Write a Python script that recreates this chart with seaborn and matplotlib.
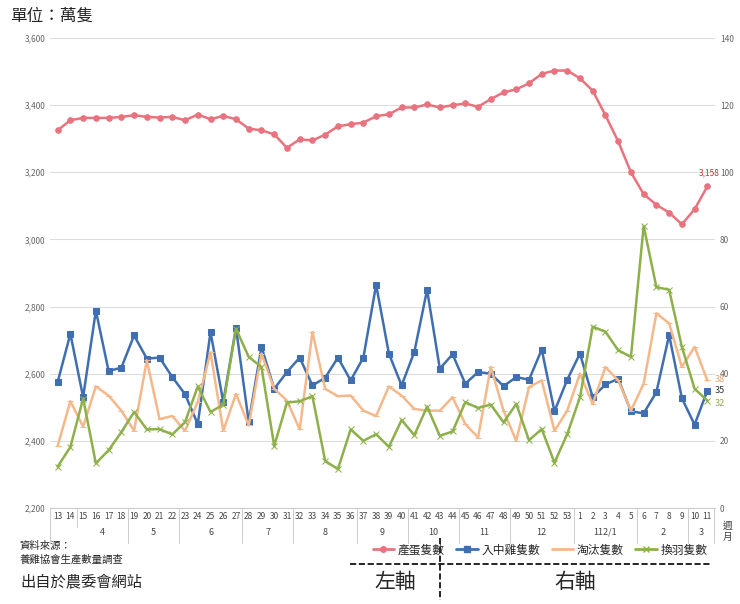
import numpy as np
import pandas as pd
import seaborn as sns
import matplotlib.pyplot as plt
from matplotlib.lines import Line2D

weeks = list(range(13, 54)) + list(range(1, 12))
months = [("4", 15, 18), ("5", 19, 22), ("6", 23, 27), ("7", 28, 31), ("8", 32, 36),
          ("9", 37, 40), ("10", 41, 44), ("11", 45, 48), ("12", 49, 53),
          ("112/1", 1, 5), ("2", 6, 9), ("3", 10, 11)]

eggs = [3325, 3355, 3362, 3362, 3362, 3365, 3370, 3365, 3363, 3365, 3355, 3372, 3358, 3368,
        3358, 3330, 3325, 3313, 3273, 3298, 3295, 3312, 3337, 3343, 3348, 3367, 3373, 3393,
        3393, 3402, 3393, 3400, 3405, 3395, 3418, 3438, 3447, 3465, 3493, 3503, 3503,
        3480, 3443, 3370, 3292, 3200, 3135, 3103, 3080, 3045, 3090, 3158]
chicks = [37.5, 51.9, 33, 58.8, 40.8, 41.8, 51.4, 44.5, 44.8, 39, 33.9, 25, 52.4, 31.6,
          53.7, 25.6, 48, 35.5, 40.5, 44.8, 36.5, 38.8, 44.8, 38, 44.8, 66.5, 46, 36.5,
          46.5, 65, 41.5, 45.8, 37, 40.5, 40, 36.3, 39, 38.2, 47.2, 28.8, 38.2,
          46, 33, 36.8, 38.5, 28.8, 28.2, 34.5, 51.5, 32.7, 24.8, 35]
culled = [18.5, 31.8, 24.2, 36.2, 33.5, 29, 23, 44, 26.5, 27.4, 23, 31.6, 46.4, 23,
          34, 24.6, 46, 35.5, 32, 23.4, 52.4, 35.5, 33.3, 33.5, 29, 27.4, 36.2, 33.5,
          29.5, 29, 29, 33, 25, 21, 42, 29, 20, 36, 38, 23, 29,
          40, 31, 42, 38, 29, 37, 58, 55, 42, 48, 38]
molted = [12.3, 18.2, 32.6, 13.3, 17.2, 22.6, 28.6, 23.4, 23.5, 21.9, 25.6, 36.2, 28.6, 30.8,
          53.4, 45, 42, 18.5, 31.4, 31.8, 33.3, 14, 11.6, 23.4, 20, 22, 18.2, 26.2,
          21.7, 30.2, 21.5, 22.8, 31.5, 29.8, 30.8, 25.5, 31, 20.2, 23.5, 13.5, 22,
          33, 54, 52.5, 47, 45, 84, 65.8, 65, 48, 35.5, 32]

sns.set_style("white")
plt.rcParams['font.family'] = ['Noto Sans CJK TC', 'DejaVu Sans']

df = pd.DataFrame({"x": np.arange(len(weeks)), "eggs": eggs, "chicks": chicks,
                   "culled": culled, "molted": molted})

red, blue, orange, green = "#e8737f", "#3f6fb0", "#f5b88a", "#8db04a"

fig = plt.figure(figsize=(7.4, 6.04), dpi=100)
ax = fig.add_axes([50 / 740, 1 - 508 / 604, 665 / 740, 470 / 604])
ax2 = ax.twinx()

sns.lineplot(data=df, x="x", y="eggs", ax=ax, color=red, lw=1.8, marker="o", ms=4, mec=red)
sns.lineplot(data=df, x="x", y="chicks", ax=ax2, color=blue, lw=1.8, marker="s", ms=4.5, mec=blue)
sns.lineplot(data=df, x="x", y="culled", ax=ax2, color=orange, lw=1.8, marker="_", ms=5, mec=orange)
sns.lineplot(data=df, x="x", y="molted", ax=ax2, color=green, lw=1.8, marker="x", ms=4, mec=green)

ax.set_ylim(2200, 3600)
ax2.set_ylim(0, 140)
ax.set_xlim(-0.6, len(weeks) - 0.4)
ax.set_yticks(range(2200, 3601, 200))
ax.set_yticklabels([f"{v:,}" for v in range(2200, 3601, 200)])
ax2.set_yticks(range(0, 141, 20))
for a in (ax, ax2):
    a.tick_params(axis="y", labelsize=6, colors="#666666", length=0)
    a.set_xlabel("")
    a.set_ylabel("")
    for s in a.spines.values():
        s.set_visible(False)
ax.grid(axis="y", color="#dddddd", lw=0.8)
ax.spines["bottom"].set_visible(True)
ax.spines["bottom"].set_color("#cccccc")
ax.set_xticks(df["x"])
ax.set_xticklabels(weeks, fontsize=6, color="#444444")
ax.tick_params(axis="x", length=0, pad=3)

# month row
tr = ax.get_xaxis_transform()
pos = 0
for name, a, b in months:
    if name == "4":
        i0 = 2
    elif name == "112/1":
        i0 = 41
    else:
        i0 = pos
    i1 = i0 + (b - a)
    pos = i1 + 1
    ax.text((i0 + i1) / 2, -0.052, name, transform=tr, ha="center", va="center",
            fontsize=6.5, color="#444444")
    ax.plot([i1 + 0.5] * 2, [0, -0.075], transform=tr, color="#cccccc", lw=0.7, clip_on=False)
ax.plot([-0.6, -0.6], [0, -0.075], transform=tr, color="#cccccc", lw=0.7, clip_on=False)
ax.plot([1.5, 1.5], [0, -0.04], transform=tr, color="#cccccc", lw=0.7, clip_on=False)
ax.text(1.012, -0.05, "週\n月", transform=ax.transAxes, fontsize=7, color="#444444", va="center")

# end labels
n = len(weeks) - 1
ax.annotate(f"{eggs[-1]:,}", (n, eggs[-1]), xytext=(-6, 8), textcoords="offset points",
            fontsize=6, color="#c0392b")
ax2.annotate(f"{chicks[-1]:.0f}", (n, chicks[-1]), xytext=(5, -2), textcoords="offset points",
             fontsize=6.5, color="#333333")
ax2.annotate(f"{culled[-1]:.0f}", (n, culled[-1]), xytext=(5, -1), textcoords="offset points",
             fontsize=6.5, color="#e0a070")
ax2.annotate(f"{molted[-1]:.0f}", (n, molted[-1]), xytext=(5, -4), textcoords="offset points",
             fontsize=6.5, color="#8db04a")

fig.text(10 / 740, 1 - 16 / 604, "單位：萬隻", fontsize=12, va="center")
fig.text(20 / 740, 1 - 553 / 604, "資料來源：\n養雞協會生產數量調查", fontsize=7.5, va="center", linespacing=1.4)
fig.text(20 / 740, 1 - 582 / 604, "出自於農委會網站", fontsize=11, va="center")

handles = [Line2D([], [], color=c, lw=2, marker=m, ms=4) for c, m in
           [(red, "o"), (blue, "s"), (orange, "_"), (green, "x")]]
fig.legend(handles, ["產蛋隻數", "入中雞隻數", "淘汰隻數", "換羽隻數"], loc="center",
           bbox_to_anchor=(540 / 740, 1 - 550 / 604), ncol=4, frameon=False, fontsize=8.5,
           handlelength=1.8, columnspacing=1.0, handletextpad=0.3)
fig.add_artist(Line2D([350 / 740, 710 / 740], [1 - 564 / 604] * 2, color="black", lw=1.2, ls="--"))
fig.add_artist(Line2D([440 / 740] * 2, [1 - 538 / 604, 1 - 600 / 604], color="black", lw=1.2, ls="--"))
fig.text(395 / 740, 1 - 582 / 604, "左軸", fontsize=15, ha="center", va="center")
fig.text(575 / 740, 1 - 582 / 604, "右軸", fontsize=15, ha="center", va="center")

fig.savefig("out.png", dpi=100)
